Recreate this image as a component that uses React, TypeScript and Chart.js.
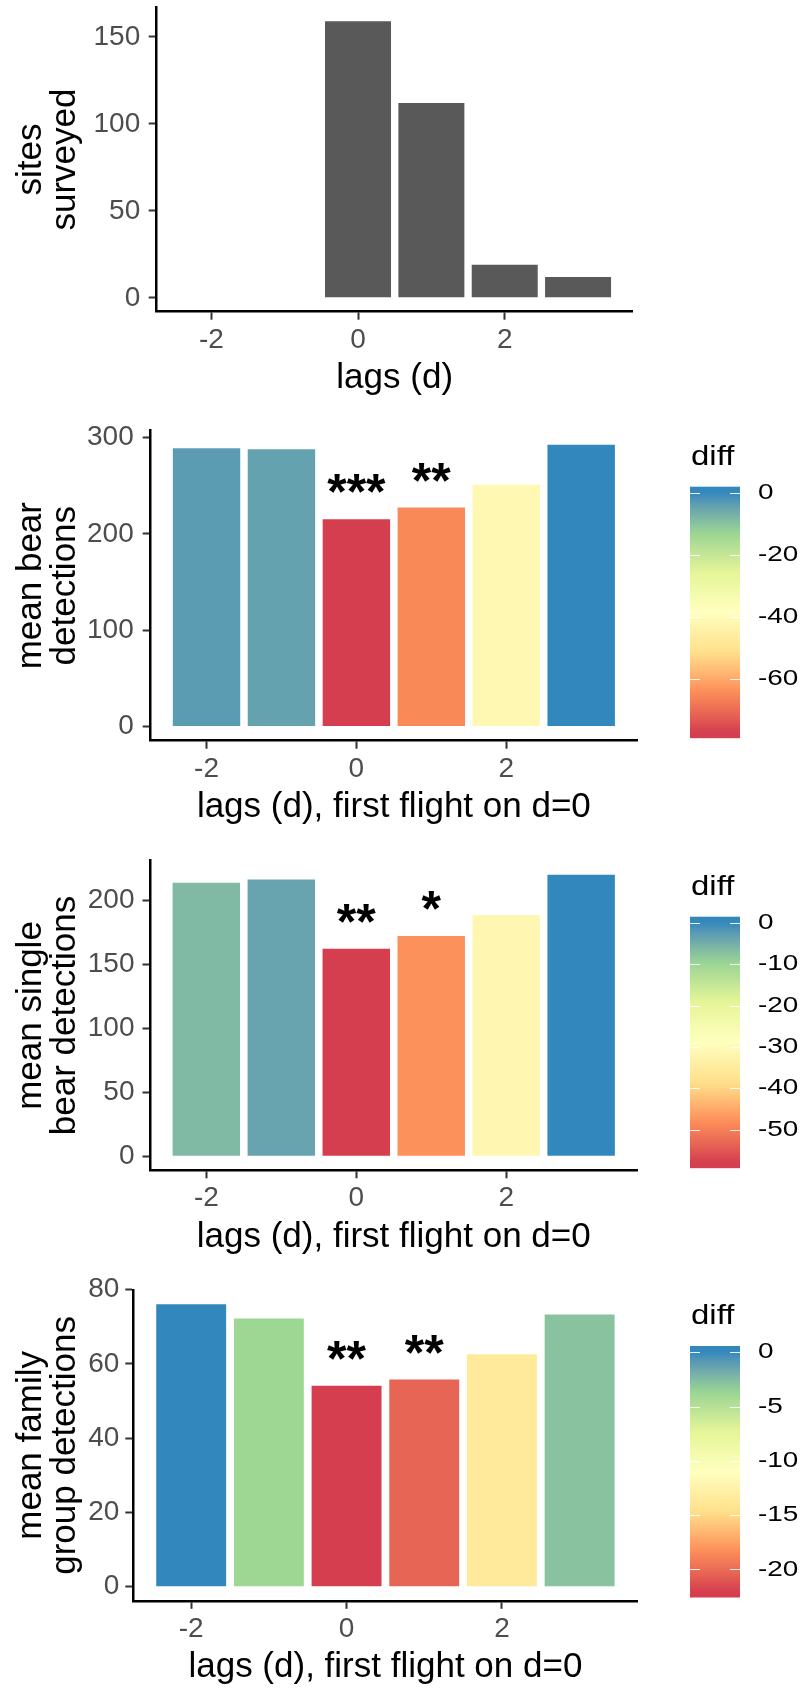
import React, { useEffect, useRef } from "react";
import { Chart, registerables } from "chart.js";

Chart.register(...registerables);

// ---------------- DATA ----------------
const lags = [-2, -1, 0, 1, 2, 3];
const xTickValues = [-2, 0, 2];

const sitesSurveyed = [0, 0, 159, 112, 19, 12];
const sitesTicks = [0, 50, 100, 150];

const meanBear = [289.0, 288.0, 215.3, 227.4, 250.9, 292.5];
const meanBearTicks = [0, 100, 200, 300];
const meanBearSig = ["", "", "***", "**", "", ""];
const meanBearBreaks = [0, -20, -40, -60];

const meanSingle = [213.4, 216.0, 161.9, 172.0, 188.3, 219.7];
const meanSingleTicks = [0, 50, 100, 150, 200];
const meanSingleSig = ["", "", "**", "*", "", ""];
const meanSingleBreaks = [0, -10, -20, -30, -40, -50];

const meanFamily = [76.1, 72.2, 54.1, 55.8, 62.6, 73.3];
const meanFamilyTicks = [0, 20, 40, 60, 80];
const meanFamilySig = ["", "", "**", "**", "", ""];
const meanFamilyBreaks = [0, -5, -10, -15, -20];

// ---------------- STYLE ----------------
const FAMILY = "'Liberation Sans', Arial, Helvetica, sans-serif";
const SPECTRAL7 = ["#D53E4F", "#FC8D59", "#FEE08B", "#FFFFBF", "#E6F598", "#99D594", "#3288BD"];
const CANVAS_W = 802;
const X_AXIS_H = 85;

function hexToRgb(h: string): number[] {
  const n = parseInt(h.slice(1), 16);
  return [(n >> 16) & 255, (n >> 8) & 255, n & 255];
}
function toLin(c: number) {
  c /= 255;
  return c <= 0.04045 ? c / 12.92 : Math.pow((c + 0.055) / 1.055, 2.4);
}
function fromLin(c: number) {
  const v = c <= 0.0031308 ? 12.92 * c : 1.055 * Math.pow(c, 1 / 2.4) - 0.055;
  return Math.max(0, Math.min(255, Math.round(v * 255)));
}
const XN = 0.95047, YN = 1.0, ZN = 1.08883;
function rgbToLab(rgb: number[]): number[] {
  const [r, g, b] = rgb.map(toLin);
  const X = 0.4124 * r + 0.3576 * g + 0.1805 * b;
  const Y = 0.2126 * r + 0.7152 * g + 0.0722 * b;
  const Z = 0.0193 * r + 0.1192 * g + 0.9505 * b;
  const f = (t: number) => (t > 0.008856 ? Math.cbrt(t) : 7.787 * t + 16 / 116);
  const fx = f(X / XN), fy = f(Y / YN), fz = f(Z / ZN);
  return [116 * fy - 16, 500 * (fx - fy), 200 * (fy - fz)];
}
function labToRgb(lab: number[]): number[] {
  const [L, a, b] = lab;
  const fy = (L + 16) / 116, fx = fy + a / 500, fz = fy - b / 200;
  const finv = (t: number) => (t * t * t > 0.008856 ? t * t * t : (t - 16 / 116) / 7.787);
  const X = finv(fx) * XN, Y = finv(fy) * YN, Z = finv(fz) * ZN;
  const r = 3.2406 * X - 1.5372 * Y - 0.4986 * Z;
  const g = -0.9689 * X + 1.8758 * Y + 0.0415 * Z;
  const bb = 0.0557 * X - 0.204 * Y + 1.057 * Z;
  return [fromLin(r), fromLin(g), fromLin(bb)];
}
const SPECTRAL_LAB = SPECTRAL7.map((h) => rgbToLab(hexToRgb(h)));
function spectral(t: number): string {
  const tt = Math.max(0, Math.min(1, t));
  const n = SPECTRAL_LAB.length;
  const p = tt * (n - 1);
  const i = Math.min(Math.floor(p), n - 2);
  const f = p - i;
  const a = SPECTRAL_LAB[i], b = SPECTRAL_LAB[i + 1];
  const rgb = labToRgb([a[0] + (b[0] - a[0]) * f, a[1] + (b[1] - a[1]) * f, a[2] + (b[2] - a[2]) * f]);
  return `rgb(${rgb[0]},${rgb[1]},${rgb[2]})`;
}

type Area = { left: number; right: number; top: number; bottom: number };
type PanelCfg = {
  top: number;
  height: number;
  area: Area;
  values: number[];
  yTicks: number[];
  yTitle: string[];
  xTitle: string;
  sig?: string[];
  breaks?: number[];
  yPad: number;
};

const panels: PanelCfg[] = [
  {
    top: 0, height: 410,
    area: { left: 156.7, right: 632.7, top: 7.3, bottom: 311.7 },
    values: sitesSurveyed, yTicks: sitesTicks,
    yTitle: ["sites", "surveyed"], xTitle: "lags (d)", yPad: 8.5,
  },
  {
    top: 410, height: 425,
    area: { left: 150.7, right: 637, top: 20.7, bottom: 330.7 },
    values: meanBear, yTicks: meanBearTicks,
    yTitle: ["mean bear", "detections"], xTitle: "lags (d), first flight on d=0",
    sig: meanBearSig, breaks: meanBearBreaks, yPad: 9,
  },
  {
    top: 835, height: 425,
    area: { left: 150.5, right: 637, top: 25.7, bottom: 335.3 },
    values: meanSingle, yTicks: meanSingleTicks,
    yTitle: ["mean single", "bear detections"], xTitle: "lags (d), first flight on d=0",
    sig: meanSingleSig, breaks: meanSingleBreaks, yPad: 8,
  },
  {
    top: 1260, height: 428,
    area: { left: 133.3, right: 637.5, top: 30, bottom: 340.8 },
    values: meanFamily, yTicks: meanFamilyTicks,
    yTitle: ["mean family", "group detections"], xTitle: "lags (d), first flight on d=0",
    sig: meanFamilySig, breaks: meanFamilyBreaks, yPad: 6,
  },
];

function buildChart(canvas: HTMLCanvasElement, cfg: PanelCfg) {
  const { area, values, yTicks, sig, breaks } = cfg;
  const vmax = Math.max(...values);
  const diffs = values.map((v) => v - vmax);
  const dlo = Math.min(...diffs);
  const dhi = Math.max(...diffs);
  const colors = breaks
    ? diffs.map((d) => spectral((d - dlo) / (dhi - dlo)))
    : values.map(() => "#595959");

  const xlo = lags[0] - 0.45, xhi = lags[lags.length - 1] + 0.45;
  const xpad = 0.05 * (xhi - xlo);

  const annot = {
    id: "annot" + cfg.top,
    afterDraw(chart: any) {
      const ctx: CanvasRenderingContext2D = chart.ctx;
      const xs = chart.scales.x, ys = chart.scales.y;
      if (sig) {
        ctx.save();
        ctx.font = `bold 50px ${FAMILY}`;
        ctx.fillStyle = "#000";
        ctx.textAlign = "center";
        ctx.textBaseline = "alphabetic";
        sig.forEach((s, i) => {
          if (!s) return;
          const m = ctx.measureText(s);
          const cx = xs.getPixelForValue(lags[i]);
          const cy = ys.getPixelForValue(values[i]) - 35.3;
          const base = cy + (m.actualBoundingBoxAscent - m.actualBoundingBoxDescent) / 2;
          ctx.fillText(s, cx, base);
        });
        ctx.restore();
      }
      if (breaks) {
        const x0 = 690, x1 = 740;
        const yTop = chart.chartArea.top + 56;
        const yBot = yTop + 251.5;
        const H = yBot - yTop;
        const nbin = 20;
        const pos = (v: number) => yBot - ((0.5 + (nbin - 1) * (v - dlo) / (dhi - dlo)) / nbin) * H;
        const grad = ctx.createLinearGradient(0, yBot, 0, yTop);
        for (let k = 0; k <= 60; k++) {
          const f = k / 60;
          const t = (f * nbin - 0.5) / (nbin - 1);
          grad.addColorStop(f, spectral(t));
        }
        ctx.save();
        ctx.fillStyle = grad;
        ctx.fillRect(x0, yTop, x1 - x0, H);
        ctx.strokeStyle = "rgba(255,255,255,0.9)";
        ctx.lineWidth = 1;
        breaks.forEach((b) => {
          const y = Math.round(pos(b)) + 0.5;
          ctx.beginPath();
          ctx.moveTo(x0, y); ctx.lineTo(x0 + 10, y);
          ctx.moveTo(x1 - 10, y); ctx.lineTo(x1, y);
          ctx.stroke();
        });
        ctx.fillStyle = "#000";
        ctx.textAlign = "left";
        ctx.textBaseline = "middle";
        ctx.font = `22px ${FAMILY}`;
        breaks.forEach((b) => {
          ctx.save();
          ctx.translate(758, pos(b));
          ctx.scale(1.27, 1);
          ctx.fillText(String(b), 0, 0);
          ctx.restore();
        });
        ctx.textBaseline = "alphabetic";
        ctx.font = `27px ${FAMILY}`;
        ctx.save();
        ctx.translate(691, yTop - 22);
        ctx.scale(1.22, 1);
        ctx.fillText("diff", 0, 0);
        ctx.restore();
        ctx.restore();
      }
    },
  };

  return new Chart(canvas, {
    type: "bar",
    data: {
      datasets: [
        {
          data: lags.map((x, i) => ({ x, y: values[i] })),
          backgroundColor: colors,
          borderWidth: 0,
          barPercentage: 0.9,
          categoryPercentage: 1.0,
        },
      ],
    },
    options: {
      responsive: false,
      maintainAspectRatio: false,
      animation: false,
      devicePixelRatio: 1,
      layout: {
        padding: {
          left: 0,
          top: area.top,
          right: CANVAS_W - area.right,
          bottom: cfg.height - area.bottom - X_AXIS_H,
        },
      },
      plugins: { legend: { display: false }, tooltip: { enabled: false } },
      scales: {
        x: {
          type: "linear",
          min: xlo - xpad,
          max: xhi + xpad,
          offset: false,
          afterBuildTicks: (s: any) => {
            s.ticks = xTickValues.map((v) => ({ value: v }));
          },
          afterFit: (s: any) => {
            s.height = X_AXIS_H;
            s.paddingLeft = 0;
            s.paddingRight = 0;
          },
          grid: {
            display: true,
            drawOnChartArea: false,
            drawTicks: true,
            tickLength: 8,
            tickWidth: 2,
            tickColor: "#333333",
            offset: false,
          },
          border: { display: true, color: "#000", width: 2.5 },
          ticks: {
            font: { family: FAMILY, size: 28, lineHeight: 1.2 },
            color: "#4D4D4D",
            padding: 3.5,
            maxRotation: 0,
            autoSkip: false,
            callback: (v: any) => String(v),
          },
          title: {
            display: true,
            text: cfg.xTitle,
            font: { family: FAMILY, size: 35, lineHeight: 1.0 },
            color: "#000",
            padding: { top: 0, bottom: 0.5 },
          },
        },
        y: {
          type: "linear",
          min: -0.05 * vmax,
          max: 1.05 * vmax,
          afterBuildTicks: (s: any) => {
            s.ticks = yTicks.map((v) => ({ value: v }));
          },
          afterFit: (s: any) => {
            s.width = area.left;
            s.paddingTop = 0;
            s.paddingBottom = 0;
          },
          grid: {
            display: true,
            drawOnChartArea: false,
            drawTicks: true,
            tickLength: 8,
            tickWidth: 2,
            tickColor: "#333333",
          },
          border: { display: true, color: "#000", width: 2.5 },
          ticks: {
            font: { family: FAMILY, size: 28, lineHeight: 1.2 },
            color: "#4D4D4D",
            padding: cfg.yPad,
            autoSkip: false,
            callback: (v: any) => String(v),
          },
          title: {
            display: true,
            text: cfg.yTitle,
            font: { family: FAMILY, size: 35, lineHeight: 0.97 },
            color: "#000",
            padding: { top: 14, bottom: 0 },
          },
        },
      },
    } as any,
    plugins: [annot],
  });
}

function Panel({ cfg }: { cfg: PanelCfg }) {
  const ref = useRef<HTMLCanvasElement>(null);
  useEffect(() => {
    if (!ref.current) return;
    const chart = buildChart(ref.current, cfg);
    return () => chart.destroy();
  }, [cfg]);
  return (
    <canvas
      ref={ref}
      width={CANVAS_W}
      height={cfg.height}
      style={{ position: "absolute", left: 0, top: cfg.top, width: CANVAS_W, height: cfg.height, display: "block" }}
    />
  );
}

export default function App() {
  return (
    <div style={{ position: "absolute", left: 0, top: 0, width: 802, height: 1688, background: "#fff", overflow: "hidden" }}>
      {panels.map((p) => (
        <Panel key={p.top} cfg={p} />
      ))}
    </div>
  );
}
